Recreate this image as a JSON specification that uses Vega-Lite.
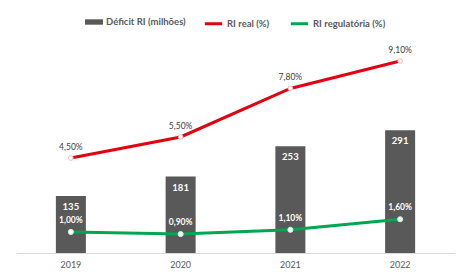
{
  "$schema": "https://vega.github.io/schema/vega-lite/v6.json",
  "width": 439,
  "height": 211,
  "autosize": {"type": "none"},
  "padding": {"left": 16, "top": 42, "right": 1, "bottom": 22},
  "background": "white",
  "config": {
    "view": {"stroke": null},
    "font": "Lato",
    "locale": {"number": {"decimal": ",", "thousands": ".", "grouping": [3], "currency": ["R$", ""]}},
    "legend": {"labelFont": "Lato", "labelFontSize": 9.5, "labelFontWeight": "bold", "labelColor": "#595959", "labelOffset": 3, "title": null}
  },
  "data": {
    "values": [
      {"year": "2019", "deficit": 135, "real": 0.045, "reg": 0.010},
      {"year": "2020", "deficit": 181, "real": 0.055, "reg": 0.009},
      {"year": "2021", "deficit": 253, "real": 0.078, "reg": 0.011},
      {"year": "2022", "deficit": 291, "real": 0.091, "reg": 0.016}
    ]
  },
  "encoding": {
    "x": {
      "field": "year", "type": "nominal", "title": null,
      "scale": {"paddingInner": 0, "paddingOuter": 0},
      "axis": {"labelAngle": 0, "ticks": false, "domainColor": "#D9D9D9", "labelColor": "#595959", "labelFontSize": 9, "labelPadding": 7, "labelFont": "Lato"}
    }
  },
  "layer": [
    {
      "encoding": {
        "y": {"field": "deficit", "type": "quantitative", "scale": {"domain": [0, 500]}, "axis": null}
      },
      "layer": [
        {
          "mark": {"type": "bar", "width": 30},
          "encoding": {
            "color": {
              "datum": "Déficit RI (milhões)",
              "scale": {"domain": ["Déficit RI (milhões)"], "range": ["#595959"]},
              "legend": {"orient": "none", "legendX": 69, "legendY": -29, "symbolType": "M-1,-0.3H1V0.3H-1Z", "symbolSize": 324, "symbolStrokeWidth": 0}
            }
          }
        },
        {
          "mark": {"type": "text", "color": "white", "fontWeight": "bold", "fontSize": 9.5, "baseline": "top", "dy": 6},
          "encoding": {"text": {"field": "deficit", "type": "quantitative"}}
        }
      ]
    },
    {
      "layer": [
        {
          "mark": {"type": "line", "strokeWidth": 3},
          "encoding": {
            "y": {"field": "real", "type": "quantitative", "scale": {"domain": [0, 0.1]}, "axis": null},
            "color": {
              "datum": "RI real (%)",
              "scale": {"domain": ["RI real (%)", "RI regulatória (%)"], "range": ["#E3000F", "#00A651"]},
              "legend": {"orient": "none", "direction": "horizontal", "legendX": 187, "legendY": -29, "symbolType": "stroke", "symbolSize": 300, "symbolStrokeWidth": 3, "columnPadding": 14}
            }
          }
        },
        {
          "mark": {"type": "line", "strokeWidth": 3},
          "encoding": {
            "y": {"field": "reg", "type": "quantitative", "scale": {"domain": [0, 0.1]}, "axis": null},
            "color": {"datum": "RI regulatória (%)"}
          }
        },
        {
          "mark": {"type": "point", "filled": true, "fill": "white", "stroke": "#F2B8B8", "strokeWidth": 1, "size": 22, "opacity": 1},
          "encoding": {"y": {"field": "real", "type": "quantitative", "scale": {"domain": [0, 0.1]}, "axis": null}}
        },
        {
          "mark": {"type": "point", "filled": true, "fill": "white", "stroke": "#CFF0DC", "strokeWidth": 1, "size": 26, "opacity": 1},
          "encoding": {"y": {"field": "reg", "type": "quantitative", "scale": {"domain": [0, 0.1]}, "axis": null}}
        },
        {
          "mark": {"type": "text", "color": "#404040", "fontSize": 8.5, "dy": -11},
          "encoding": {
            "y": {"field": "real", "type": "quantitative", "scale": {"domain": [0, 0.1]}, "axis": null},
            "text": {"field": "real", "type": "quantitative", "format": ".2%"}
          }
        },
        {
          "mark": {"type": "text", "color": "white", "fontWeight": "bold", "fontSize": 8.5, "dy": -12},
          "encoding": {
            "y": {"field": "reg", "type": "quantitative", "scale": {"domain": [0, 0.1]}, "axis": null},
            "text": {"field": "reg", "type": "quantitative", "format": ".2%"}
          }
        }
      ]
    }
  ],
  "resolve": {"scale": {"y": "independent", "color": "independent"}}
}
